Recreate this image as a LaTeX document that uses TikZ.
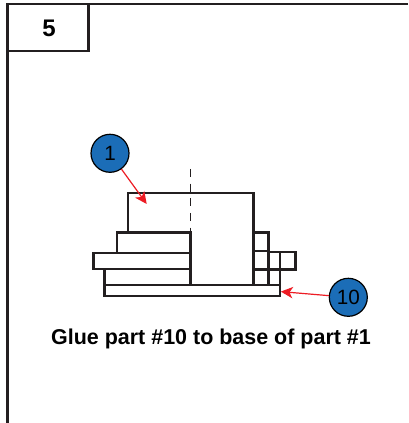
\documentclass[tikz,border=0pt]{standalone}
\usepackage{fontspec}
\setmainfont{Liberation Sans}
\usetikzlibrary{arrows.meta}
\definecolor{calloutblue}{HTML}{1B6DB7}
\definecolor{arrowred}{HTML}{ED1C24}
\definecolor{ink}{HTML}{231F20}
\tikzset{
  frameline/.style={draw=ink,line width=1.9pt},
  partline/.style={draw=ink,line width=1.8pt},
  callout/.style={circle,draw=black,line width=0.9pt,fill=calloutblue,minimum size=28.5pt,inner sep=0pt,font=\fontsize{15.5}{18}\selectfont,text=black},
  leader/.style={draw=arrowred,line width=0.9pt,-{Stealth[length=9pt,width=8.5pt,inset=2.5pt]}},
  caption/.style={font=\bfseries\fontsize{16.1}{18}\selectfont,text=black,inner sep=0pt},
  stepno/.style={font=\bfseries\fontsize{18}{20}\selectfont,text=black,inner sep=0pt}
}
\begin{document}
\begin{tikzpicture}[x=0.75pt,y=-0.75pt]
\useasboundingbox (0,0) rectangle (408,423);
\fill[white] (0,0) rectangle (408,423);
% frame
\draw[frameline] (408,4) -- (7.5,4) -- (7.5,423);
\draw[frameline] (7.5,51) -- (88.5,51) -- (88.5,4);
\node[stepno] (stepnum) at (49,28.5) {5};
% centre line
\draw[draw=ink,line width=0.9pt,dash pattern=on 6pt off 5pt] (190.7,169) -- (190.7,232);
% upper body
\draw[partline] (127.7,232.7) -- (127.7,193) -- (253.5,193) -- (253.5,285);
% left stack
\draw[partline] (116.7,252.7) -- (116.7,232.7) -- (190.5,232.7) -- (190.5,285);
\draw[partline] (93.5,252.7) rectangle (190.5,268.7);
\draw[partline] (104.3,268.7) -- (104.3,296) -- (280,296) -- (280,285) -- (104.3,285);
% right stack
\draw[partline] (253.5,232.7) -- (268.3,232.7) -- (268.3,285);
\draw[partline] (253.5,250.7) -- (268.3,250.7);
\draw[partline] (253.5,269.3) -- (295.3,269.3) -- (295.3,252) -- (268.3,252);
\draw[partline] (280,252) -- (280,285);
% callouts
\node[callout] (c1) at (110,153.3) {1};
\node[callout] (c10) at (348.3,297.3) {10};
\coordinate (t1) at (146.7,204);
\coordinate (t10) at (280.8,291.6);
\draw[leader] (c1) -- (t1);
\draw[leader] (c10) -- (t10);
\node[caption] (cap) at (211,338.5) {Glue part \#10 to base of part \#1};
\end{tikzpicture}
\end{document}
